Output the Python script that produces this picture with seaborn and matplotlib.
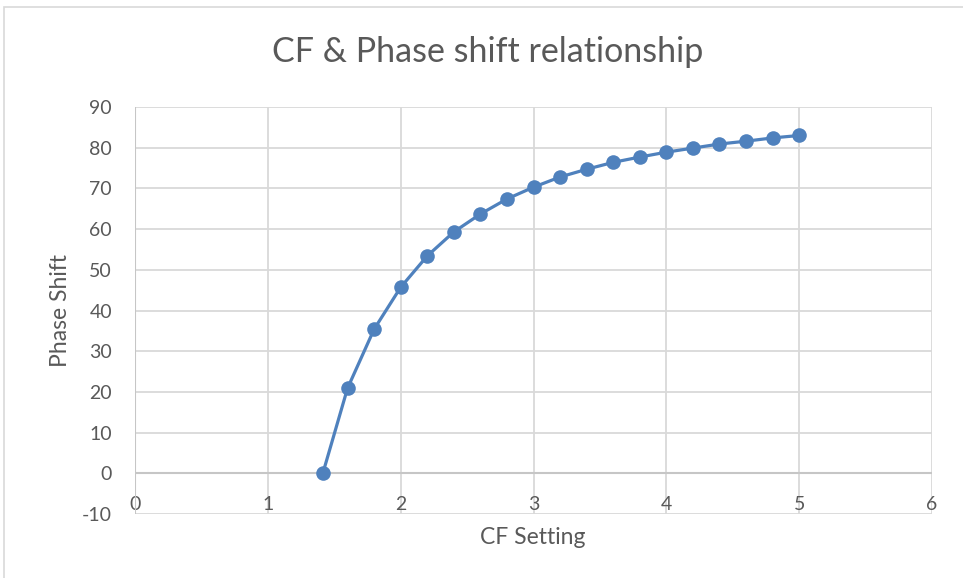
import matplotlib
matplotlib.use("Agg")
import matplotlib.pyplot as plt
import seaborn as sns
import pandas as pd
from matplotlib.patches import Rectangle

# Crest factor setting and resulting phase shift (degrees)
cf_setting = [1.414, 1.6, 1.8, 2.0, 2.2, 2.4, 2.6, 2.8, 3.0, 3.2, 3.4,
              3.6, 3.8, 4.0, 4.2, 4.4, 4.6, 4.8, 5.0]
phase_shift = [0.0, 20.9, 35.4, 45.7, 53.4, 59.3, 63.7, 67.4, 70.3, 72.8, 74.7,
               76.4, 77.7, 78.9, 79.9, 80.9, 81.6, 82.4, 83.0]

x_ticks = [0, 1, 2, 3, 4, 5, 6]
y_ticks = [-10, 0, 10, 20, 30, 40, 50, 60, 70, 80, 90]

title = "CF & Phase shift relationship"
x_label = "CF Setting"
y_label = "Phase Shift"

df = pd.DataFrame({"cf": cf_setting, "phase": phase_shift})

sns.set_theme(style="white")
plt.rcParams["font.family"] = ["Lato", "DejaVu Sans"]
plt.rcParams["axes.unicode_minus"] = False

text_color = "#595959"
grid_color = "#d9d9d9"
axis_color = "#c6c6c6"
line_color = "#4f81bd"

fig = plt.figure(figsize=(9.63, 5.78), dpi=100)
ax = fig.add_axes([0.1402, 0.1107, 0.8276, 0.7042])

# chart-area frame
fig.patches.append(Rectangle((4 / 963, -0.05), 1.2, 1 - 7 / 578 + 0.05,
                             transform=fig.transFigure, fill=False,
                             edgecolor="#d9d9d9", linewidth=1.2))

ax.set_xlim(0, 6)
ax.set_ylim(-10, 90)
ax.set_xticks(x_ticks)
ax.set_yticks(y_ticks)
ax.grid(True, color=grid_color, linewidth=1.3)
ax.axhline(0, color=axis_color, linewidth=1.5, zorder=1)
ax.axvline(0, color=axis_color, linewidth=1.5, zorder=1)
for s in ax.spines.values():
    s.set_visible(False)

sns.lineplot(data=df, x="cf", y="phase", ax=ax, color=line_color,
             linewidth=2.3, marker="o", markersize=10.5,
             markeredgewidth=0, estimator=None, sort=False, zorder=3)

ax.tick_params(axis="both", length=0, labelsize=14, colors=text_color)
ax.tick_params(axis="x", pad=-1)
ax.tick_params(axis="y", pad=16.5)
for lab in ax.get_xticklabels():
    lab.set_verticalalignment("bottom")

ax.set_xlabel(x_label, fontsize=16.5, color=text_color)
ax.set_ylabel(y_label, fontsize=16.5, color=text_color)
ax.xaxis.set_label_coords(0.4994, -0.0565)
ax.xaxis.label.set_verticalalignment("center")
ax.yaxis.set_label_coords(-0.0941, 0.501)
ax.yaxis.label.set_verticalalignment("center")

fig.text(488 / 963, 1 - 52 / 578, title, fontsize=24.5, color=text_color,
         ha="center", va="center")

fig.savefig("out.png", dpi=100)
